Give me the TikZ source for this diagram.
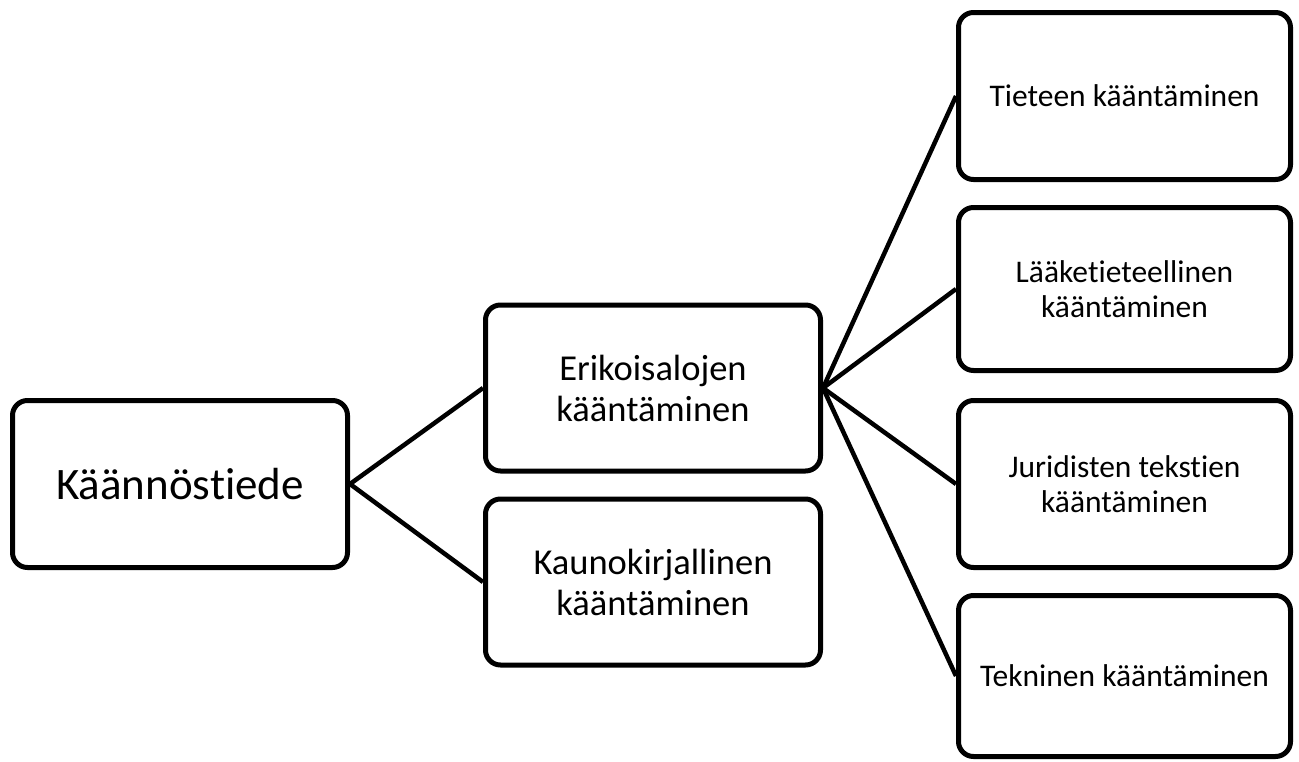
\documentclass[tikz,border=0pt]{standalone}
\usepackage{fontspec}
\setmainfont{Carlito}[Ligatures=NoCommon]
\usepackage{tikz}
\usetikzlibrary{positioning}
\tikzset{
    block/.style = {
        draw,
        shape=rectangle,
        rounded corners=15pt,
        minimum width=335pt,
        minimum height=166pt,
        line width=5pt,
        align=center,
        inner sep=2pt
    },
    big/.style = {font=\fontsize{45}{52}\selectfont},
    mid/.style = {font=\fontsize{36.5}{41}\selectfont},
    small/.style = {font=\fontsize{31.5}{35.5}\selectfont, minimum width=332pt},
    link/.style = {line width=4.5pt},
}
\begin{document}
\begin{tikzpicture}[x=1pt,y=-1pt]
                \useasboundingbox (0,0) rectangle (1299,761);

                \node[block, big, minimum height=167pt] (root) at (180,484) {Käännöstiede};
                \node[block, mid] (erik) at (653,388) {Erikoisalojen\\kääntäminen};
                \node[block, mid] (kauno) at (653,582) {Kaunokirjallinen\\kääntäminen};

                \node[block, small, minimum height=167pt] (tiede) at (1124.5,96) {Tieteen kääntäminen};
                \node[block, small, minimum height=163pt] (laake) at (1124.5,289) {Lääketieteellinen\\kääntäminen};
                \node[block, small, minimum height=167pt] (juri) at (1124.5,484) {Juridisten tekstien\\kääntäminen};
                \node[block, small, minimum height=161pt] (tekn) at (1124.5,676) {Tekninen kääntäminen};

                \path[draw, link] (root.east) -- (erik.west);
                \path[draw, link] (root.east) -- (kauno.west);
                \path[draw, link] (erik.east) -- (tiede.west);
                \path[draw, link] (erik.east) -- (laake.west);
                \path[draw, link] (erik.east) -- (juri.west);
                \path[draw, link] (erik.east) -- (tekn.west);
\end{tikzpicture}
\end{document}
